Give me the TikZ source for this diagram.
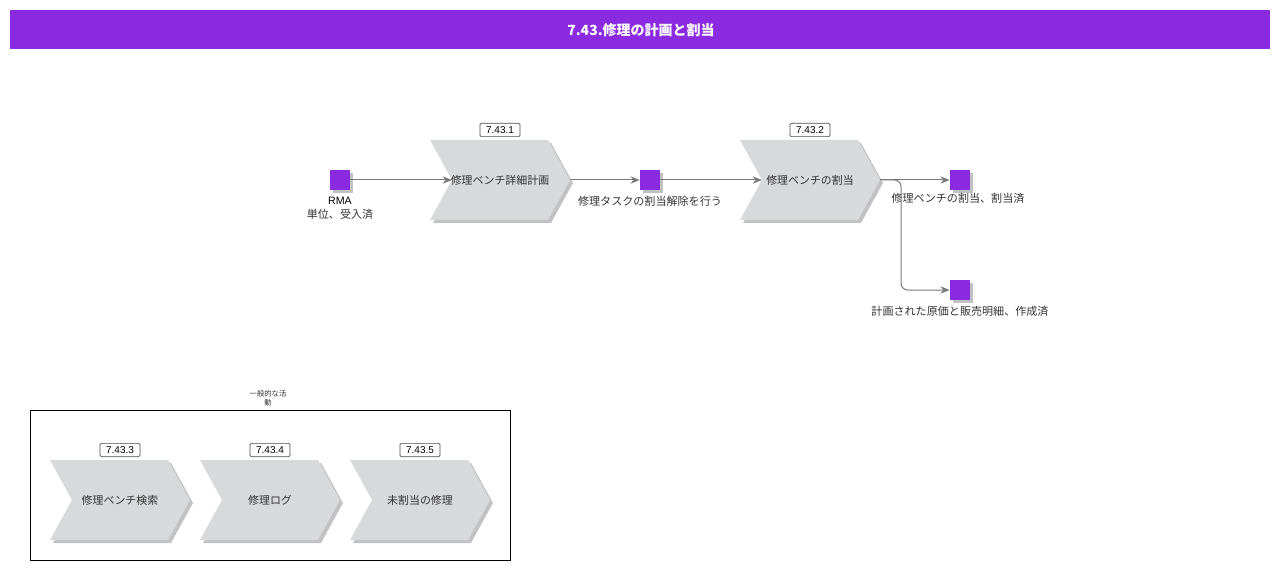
\documentclass[tikz,border=0pt]{standalone}
\usepackage{fontspec}
\setmainfont{Liberation Sans}
\newfontfamily\jp{Noto Sans CJK JP}
\usetikzlibrary{arrows.meta,shapes.geometric}
\definecolor{vio}{HTML}{8A2BE2}
\definecolor{chev}{HTML}{D8D9DB}
\definecolor{shad}{HTML}{C2C2C4}
\definecolor{lin}{HTML}{7A7A7A}
\definecolor{txt}{HTML}{333333}
\newcommand\mychev[2]{%
  \fill[shad] (#1+3,#2+3) -- ++(118,0) -- ++(22,40) -- ++(-22,40) -- ++(-118,0) -- ++(22,-40) -- cycle;
  \fill[chev] (#1,#2) -- ++(118,0) -- ++(22,40) -- ++(-22,40) -- ++(-118,0) -- ++(22,-40) -- cycle;}
\begin{document}
\begin{tikzpicture}[x=0.75pt,y=-0.75pt,
  evt/.style={fill=vio,minimum size=15pt,inner sep=0pt,draw=none},
  idbox/.style={draw=black!70,rounded corners=1pt,fill=white,line width=0.5pt,
    font=\fontsize{7.5}{8}\selectfont,inner sep=0pt,minimum width=30pt,minimum height=10pt},
  ctext/.style={font=\jp\fontsize{8.2}{10}\selectfont,text=txt},
  etext/.style={font=\jp\fontsize{8.3}{10}\selectfont,text=txt,inner sep=0pt},
  conn/.style={draw=lin,line width=0.75pt,-{Stealth[length=7pt,width=5.5pt]}}]
\useasboundingbox (0,0) rectangle (1280,570);
% title
\fill[vio] (10,10) rectangle (1270,49);
\node[text=white,font=\jp\bfseries\fontsize{10.5}{12}\selectfont] (title) at (641,30) {7.43.修理の計画と割当};
% chevrons top
\mychev{430}{140}
\mychev{740}{140}
\coordinate (c1in) at (452,180); \coordinate (c1out) at (570,180);
\coordinate (c2in) at (762,180); \coordinate (c2out) at (880,180);
\node[ctext] (t1) at (500,180) {修理ベンチ詳細計画};
\node[ctext] (t2) at (810,180) {修理ベンチの割当};
\node[idbox] (id1) at (500,130) {7.43.1};
\node[idbox] (id2) at (810,130) {7.43.2};
% events
\foreach \n/\x/\y in {e1/340/180,e2/650/180,e3/960/180,e4/960/290}{
  \fill[shad] (\x-7,\y-7) rectangle (\x+13,\y+13);
  \node[evt] (\n) at (\x,\y) {};}
\node[font=\fontsize{8}{10}\selectfont,inner sep=0pt] (l1a) at (340,201) {RMA};
\node[etext] (l1b) at (340,214) {単位、受入済};
\node[etext] (l2) at (650,201) {修理タスクの割当解除を行う};
\node[etext] (l3) at (958,198) {修理ベンチの割当、割当済};
\node[etext] (l4) at (960,311) {計画された原価と販売明細、作成済};
% connectors
\draw[conn] (e1.east) -- (c1in);
\draw[conn] (c1out) -- (e2.west);
\draw[conn] (e2.east) -- (c2in);
\draw[conn] (c2out) -- (e3.west);
\draw[conn,rounded corners=5pt] (c2out) -- (901,180) -- (901,290) -- (e4.west);
% group
\draw[black,line width=0.75pt] (30,410) rectangle (510,560);
\node[font=\jp\fontsize{5.5}{6.5}\selectfont,text=txt,align=center,inner sep=0pt] (grp) at (268,398) {一般的な活\\動};
\mychev{50}{460}
\mychev{200}{460}
\mychev{350}{460}
\node[idbox] (id3) at (120,450) {7.43.3};
\node[idbox] (id4) at (270,450) {7.43.4};
\node[idbox] (id5) at (420,450) {7.43.5};
\node[ctext] (t3) at (120,500) {修理ベンチ検索};
\node[ctext] (t4) at (270,500) {修理ログ};
\node[ctext] (t5) at (420,500) {未割当の修理};
\end{tikzpicture}
\end{document}
